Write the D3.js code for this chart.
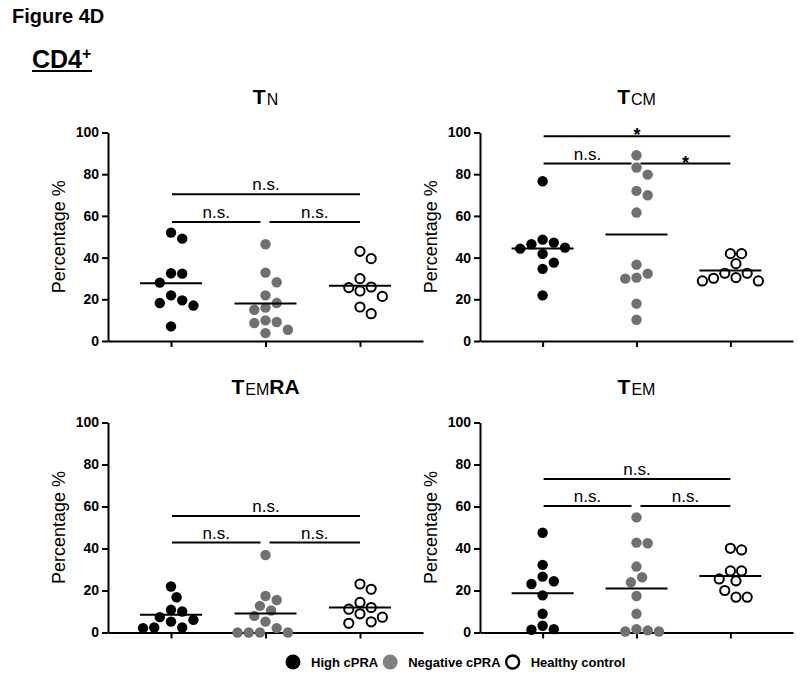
<!DOCTYPE html>
<html>
<head>
<meta charset="utf-8">
<script src="https://cdn.jsdelivr.net/npm/d3@7/dist/d3.min.js"></script>
<style>
  html, body { margin: 0; padding: 0; background: #fff; }
  svg { display: block; font-family: "Liberation Sans", Arial, sans-serif; }
</style>
</head>
<body>
<svg id="chart" width="800" height="678"></svg>
<script>
// ---------------- data ----------------
const categories = ["High cPRA", "Negative cPRA", "Healthy control"];
const yTicks = [0, 20, 40, 60, 80, 100];

const tnHigh = [52.0, 49.1, 32.5, 32.3, 28.0, 21.9, 19.5, 18.2, 17.0, 7.0];
const tnNeg  = [46.4, 32.8, 28.2, 21.9, 18.2, 16.0, 15.0, 9.9, 9.1, 8.6, 5.4, 3.8];
const tnHC   = [43.0, 39.5, 29.9, 25.9, 25.6, 24.0, 21.4, 16.3, 13.1];

const tcmHigh = [76.6, 48.6, 47.2, 46.4, 44.8, 44.3, 41.8, 37.6, 34.6, 21.9];
const tcmNeg  = [89.1, 83.2, 79.8, 72.0, 69.9, 61.6, 36.6, 32.3, 30.4, 29.9, 17.9, 10.2];
const tcmHC   = [41.9, 41.9, 37.1, 32.5, 32.5, 30.4, 30.1, 28.8, 28.8];

const temraHigh = [21.9, 16.8, 10.8, 10.0, 7.3, 6.0, 5.2, 2.4, 2.4, 2.1];
const temraNeg  = [36.9, 17.4, 15.5, 12.7, 10.5, 7.9, 5.2, 2.1, 0, 0, 0, 0];
const temraHC   = [23.1, 20.6, 14.3, 11.9, 11.1, 8.9, 7.3, 5.1, 4.4];

const temHigh = [47.5, 32.2, 26.6, 24.4, 23.1, 17.7, 8.9, 3.2, 1.6, 1.3];
const temNeg  = [54.8, 42.8, 42.5, 31.4, 26.3, 23.9, 17.4, 8.9, 1.6, 1.0, 0.5, 0.5];
const temHC   = [40.1, 39.3, 29.3, 29.3, 25.5, 24.6, 20.0, 16.8, 16.8];

// significance brackets: [fromGroup, toGroup, level (% units), label]
const tnSig    = [[0, 2, 70.4, "n.s."], [0, 1, 57.1, "n.s."], [1, 2, 57.1, "n.s."]];
const tcmSig   = [[0, 2, 98.2, "*"],    [0, 1, 85.1, "n.s."], [1, 2, 85.1, "*"]];
const temraSig = [[0, 2, 55.5, "n.s."], [0, 1, 42.8, "n.s."], [1, 2, 42.8, "n.s."]];
const temSig   = [[0, 2, 73.1, "n.s."], [0, 1, 60.2, "n.s."], [1, 2, 60.2, "n.s."]];

// ---------------- layout ----------------
const panels = [
  { main: "T", sub: "N",  tail: "",   left: 108, right: 423, top: 132.5, bottom: 341,
    groups: [tnHigh, tnNeg, tnHC], sig: tnSig },
  { main: "T", sub: "CM", tail: "",   left: 480, right: 793, top: 132.5, bottom: 341,
    groups: [tcmHigh, tcmNeg, tcmHC], sig: tcmSig },
  { main: "T", sub: "EM", tail: "RA", left: 108, right: 423, top: 422.5, bottom: 632.5,
    groups: [temraHigh, temraNeg, temraHC], sig: temraSig },
  { main: "T", sub: "EM", tail: "",   left: 480, right: 793, top: 422.5, bottom: 632.5,
    groups: [temHigh, temNeg, temHC], sig: temSig }
];

const fills   = ["#000000", "#707070", "#ffffff"];
const strokes = ["none", "none", "#000000"];

const svg = d3.select("#chart");

// header
svg.append("text").attr("x", 12).attr("y", 23)
  .attr("font-size", 20).attr("font-weight", "bold").text("Figure 4D");
const cd4 = svg.append("text").attr("x", 32).attr("y", 68)
  .attr("font-size", 25).attr("font-weight", "bold");
cd4.append("tspan").text("CD4");
cd4.append("tspan").attr("font-size", 16).attr("dy", -9).text("+");
svg.append("line").attr("x1", 32).attr("x2", 92).attr("y1", 71).attr("y2", 71)
  .attr("stroke", "#000").attr("stroke-width", 2.2);

// simple beeswarm (pixel space), no typed coordinates
function swarm(values, y, cx) {
  const D = 11.2, s = 5.6;
  const pts = values.map(v => ({ v, py: y(v) })).sort((a, b) => b.v - a.v);
  const placed = [];
  pts.forEach(p => {
    for (let k = 0; k < 60; k++) {
      const cands = k === 0 ? [0] : [k * s, -k * s];
      let ok = null;
      for (const off of cands) {
        const hit = placed.some(q => {
          const dx = q.px - (cx + off), dy = q.py - p.py;
          return dx * dx + dy * dy < D * D - 0.01;
        });
        if (!hit) { ok = off; break; }
      }
      if (ok !== null) { p.px = cx + ok; break; }
    }
    placed.push(p);
  });
  return placed;
}

panels.forEach(P => {
  const g = svg.append("g");
  const x = d3.scalePoint().domain(categories).range([P.left, P.right]).padding(0.667);
  const y = d3.scaleLinear().domain([0, 100]).range([P.bottom, P.top]);

  // title
  const cxMid = x(categories[1]);
  const t = g.append("text").attr("x", cxMid).attr("y", P.top - 29)
    .attr("text-anchor", "middle").attr("font-size", 21).attr("font-weight", "bold");
  t.append("tspan").text(P.main);
  t.append("tspan").attr("font-size", 16).attr("font-weight", "normal").attr("dx", 1).attr("dy", 1.5).text(P.sub);
  if (P.tail) t.append("tspan").attr("dy", -1.5).text(P.tail);

  // y label
  g.append("text")
    .attr("transform", `translate(${P.left - 43},${(P.top + P.bottom) / 2}) rotate(-90)`)
    .attr("text-anchor", "middle").attr("font-size", 18).text("Percentage %");

  // axes
  const ya = g.append("g").attr("transform", `translate(${P.left},0)`)
    .call(d3.axisLeft(y).tickValues(yTicks).tickSize(6).tickSizeOuter(0).tickPadding(3));
  const xa = g.append("g").attr("transform", `translate(0,${P.bottom})`)
    .call(d3.axisBottom(x).tickSize(6).tickSizeOuter(0).tickFormat(""));
  [ya, xa].forEach(a => {
    a.selectAll("path, line").attr("stroke", "#000").attr("stroke-width", 2);
    a.selectAll("text").attr("font-size", 14).attr("font-weight", "bold")
      .attr("fill", "#000").attr("font-family", "'Liberation Sans', Arial, sans-serif");
  });

  // significance brackets
  P.sig.forEach(([a, b, lvl, lab]) => {
    const x1 = x(categories[a]) + (a === 1 ? 4 : 1);
    const x2 = x(categories[b]) - (b === 1 ? 5 : 0);
    const yy = y(lvl);
    g.append("line").attr("x1", x1).attr("x2", x2).attr("y1", yy).attr("y2", yy)
      .attr("stroke", "#000").attr("stroke-width", 2);
    const star = lab === "*";
    g.append("text").attr("x", (x1 + x2) / 2).attr("y", star ? yy + 5 : yy - 4)
      .attr("text-anchor", "middle").attr("font-size", star ? 18 : 17)
      .attr("font-weight", star ? "bold" : "normal").text(lab);
  });

  // dots + mean lines
  P.groups.forEach((vals, gi) => {
    const cx = x(categories[gi]);
    const pts = swarm(vals, y, cx);
    g.selectAll(null).data(pts).enter().append("circle")
      .attr("cx", d => d.px).attr("cy", d => d.py)
      .attr("r", gi === 2 ? 4.6 : 5.2)
      .attr("fill", fills[gi]).attr("stroke", strokes[gi]).attr("stroke-width", 2);
    const m = d3.mean(vals);
    g.append("line").attr("x1", cx - 31).attr("x2", cx + 31)
      .attr("y1", y(m)).attr("y2", y(m)).attr("stroke", "#000").attr("stroke-width", 2);
  });
});

// legend
const leg = svg.append("g");
let lx = 293;
const ly = 662;
categories.forEach((c, i) => {
  leg.append("circle").attr("cx", lx).attr("cy", ly).attr("r", i === 2 ? 6.5 : 7.5)
    .attr("fill", i === 1 ? "#808080" : fills[i]).attr("stroke", i === 2 ? "#000" : "none")
    .attr("stroke-width", 2.4);
  const tx = leg.append("text").attr("x", lx + 18).attr("y", ly + 5)
    .attr("font-size", 13).attr("font-weight", "bold").text(c);
  const w = tx.node().getComputedTextLength();
  lx = lx + 18 + w + 12;
});
</script>
</body>
</html>
